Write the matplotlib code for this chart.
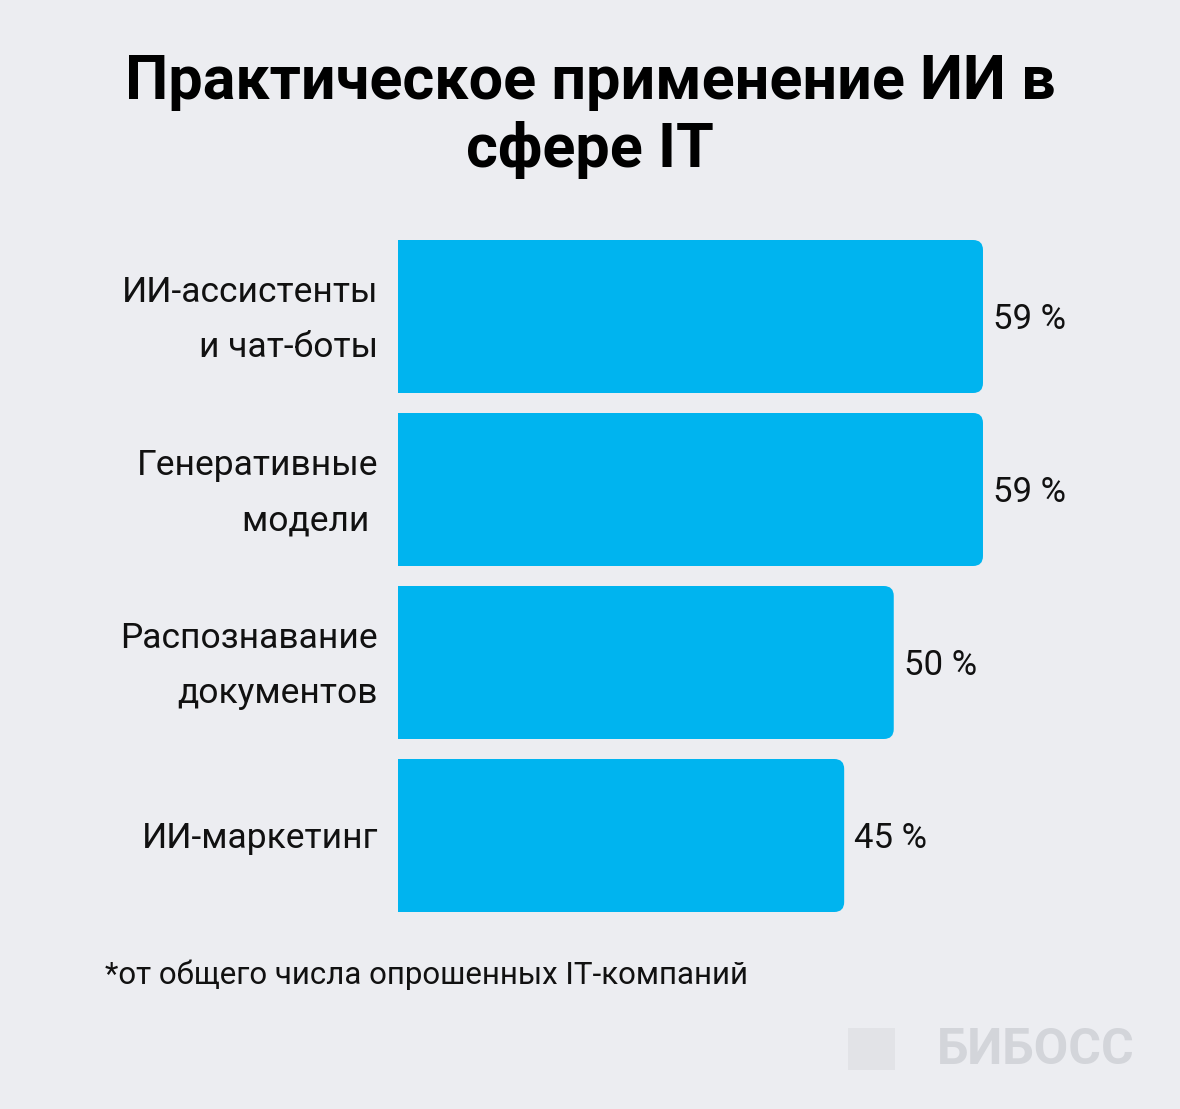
import matplotlib
matplotlib.use("Agg")
import matplotlib.pyplot as plt
from matplotlib.patches import FancyBboxPatch, Rectangle

categories = ["ИИ-ассистенты\nи чат-боты", "Генеративные\nмодели ", "Распознавание\nдокументов", "ИИ-маркетинг"]
values = [59, 59, 50, 45]
labels = ["59 %", "59 %", "50 %", "45 %"]

W, H = 1180, 1109
BG = "#ECEDF1"
BLUE = "#00B4EF"
plt.rcParams['font.family'] = ['Roboto', 'DejaVu Sans']
fig = plt.figure(figsize=(W/100, H/100), dpi=100, facecolor=BG)

pxu = 9.915  # px per percent
axl, axw = 398, 700
axt, axh = 230, 692
ax = fig.add_axes([axl/W, 1-(axt+axh)/H, axw/W, axh/H])
ax.set_facecolor(BG)
ax.set_xlim(0, axw/pxu)
ax.set_ylim(3.5, -0.5)
ax.axis('off')
bh = 153/173
r = 1.0
asp = (10/173)/(10/pxu)
for i, (v, lab, cat) in enumerate(zip(values, labels, categories)):
    ax.add_patch(FancyBboxPatch((0, i-bh/2), v, bh, boxstyle=f"round,pad=0,rounding_size={r}",
                                mutation_aspect=asp, fc=BLUE, ec='none'))
    ax.add_patch(Rectangle((0, i-bh/2), v/2, bh, fc=BLUE, ec='none'))
    ax.text(v+1.0, i+0.02, lab, va='center', ha='left', fontsize=25, color='#111')
    ax.text(-2.0, i+0.02, cat, va='center', ha='right', fontsize=25.5, color='#111', linespacing=1.85)

fig.text(590/W, 1-116/H, "Практическое применение ИИ в\nсфере IT", ha='center', va='center',
         fontsize=44, fontweight='bold', color='#000', linespacing=1.22)
fig.text(105/W, 1-975/H, "*от общего числа опрошенных IT-компаний", ha='left', va='center',
         fontsize=22.5, color='#111')
fig.patches.append(Rectangle((848/W, 1-1070/H), 47/W, 42/H, transform=fig.transFigure,
                             fc='#E2E3E7', ec='none'))
fig.text(1135/W, 1-1050/H, "БИБОСС", ha='right', va='center', fontsize=36, fontweight='bold',
         color='#D3D5DA')
fig.savefig("out.png", dpi=100, facecolor=BG)
